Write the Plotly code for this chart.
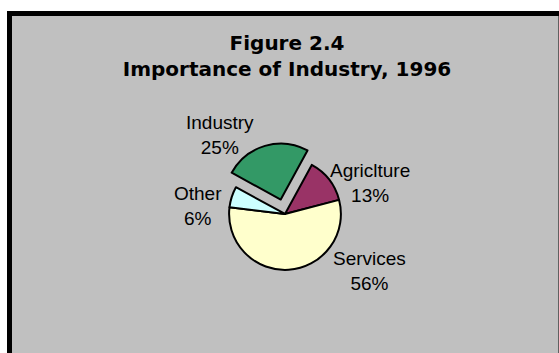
import plotly.graph_objects as go

# Data
labels = ["Agriclture", "Services", "Other", "Industry"]
values = [13, 56, 6, 25]
colors = ["#993366", "#FFFFCC", "#CCFFFF", "#339966"]
pulls = [0, 0, 0, 0.27]

title_line1 = "Figure 2.4"
title_line2 = "Importance of Industry, 1996"

W, H = 559, 353

# Label placement (pixel centres of each label block), kept separate from data
label_px = [(369.5, 183.0), (369.0, 271.2), (197.8, 206.5), (219.5, 135.2)]

fig = go.Figure()
fig.add_trace(go.Pie(
    labels=labels,
    values=values,
    sort=False,
    direction="clockwise",
    rotation=28.6,
    pull=pulls,
    marker=dict(colors=colors, line=dict(color="#000000", width=2)),
    textinfo="none",
    domain=dict(x=[214 / W, 356 / W], y=[0.1924, 0.5952]),
    showlegend=False,
    hoverinfo="label+percent",
))

total = sum(values)
for lab, val, (px, py) in zip(labels, values, label_px):
    pct = round(100 * val / total)
    fig.add_annotation(
        text=f"{lab}<br>{pct}%",
        xref="paper", yref="paper",
        x=px / W, y=1 - py / H,
        xanchor="center", yanchor="middle",
        showarrow=False,
        align="center",
        font=dict(family="Liberation Sans, Arial, sans-serif", size=19, color="#000000"),
    )

# Chart area background with black border
fig.add_shape(type="rect", xref="paper", yref="paper",
              x0=9.5 / W, x1=561 / W, y0=-0.1, y1=1 - 13.5 / H,
              line=dict(color="#000000", width=5), fillcolor="#C0C0C0", layer="below")

fig.update_layout(
    width=W, height=H,
    margin=dict(l=0, r=0, t=0, b=0),
    paper_bgcolor="#FFFFFF",
    plot_bgcolor="#FFFFFF",
    title=dict(
        text="<b>" + title_line1 + "</b><br><b>" + title_line2 + "</b>",
        x=287 / W, xanchor="center",
        y=1 - 49.5 / H, yanchor="middle",
        font=dict(family="DejaVu Sans, sans-serif", size=20, color="#000000"),
    ),
)

fig.write_html("out.html")
